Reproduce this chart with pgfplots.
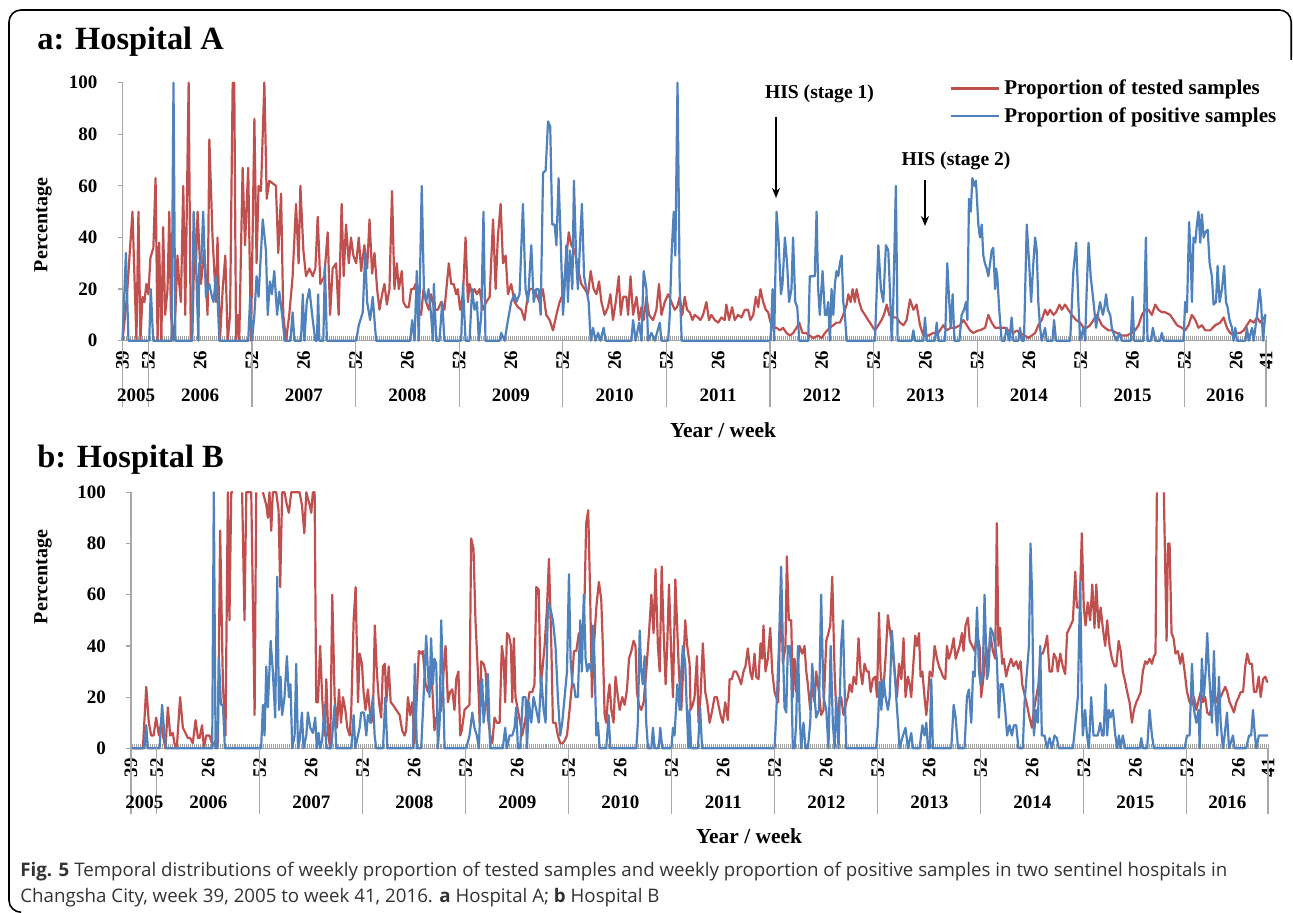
\documentclass[border=0pt]{standalone}
\usepackage{fontspec}
\setmainfont{Liberation Serif}
\newfontfamily\capfont{Open Sans}
\usepackage{pgfplots}
\pgfplotsset{compat=1.18}
\usetikzlibrary{arrows.meta}
\definecolor{cred}{HTML}{C0504D}
\definecolor{cblue}{HTML}{4F81BD}
\definecolor{tickgray}{HTML}{A8A8A8}
\definecolor{hatchgray}{HTML}{A0A0A0}
\definecolor{capgray}{HTML}{333333}
\newcommand\tfont{\fontsize{9.5}{11}\selectfont\bfseries}
\pgfplotsset{
 hosp/.style={
  scale only axis, axis lines*=left, xmin=0, xmax=574, ymin=0, ymax=100,
  enlargelimits=false, clip=false,
  axis line style={tickgray, line width=0.6pt},
  major tick length=0pt, minor tick length=2.3pt, tick align=inside,
  tick style={hatchgray, line width=0.5pt},
  minor xtick={0,1,...,574},
  xtick={0,13,39,65,91,117,143,169,195,221,247,273,299,325,351,377,403,429,455,481,507,533,559,574},
  xticklabels={39,52,26,52,26,52,26,52,26,52,26,52,26,52,26,52,26,52,26,52,26,52,26,41},
  ytick={0,20,40,60,80,100},
  /pgf/number format/assume math mode=true,
  tick label style={font=\tfont},
  xticklabel style={rotate=90, anchor=east},
  xticklabel shift=1.5pt,
  yticklabel shift=9pt,
 }
}
\tikzset{sep/.style={tickgray, line width=0.6pt}, yr/.style={font=\tfont, yshift=-27.2pt},
  rl/.style={cred, line width=1.1pt, line join=round}, bl/.style={cblue, line width=1.1pt, line join=round}}
\newcommand\decor{%
  \draw[sep] (axis cs:0,0) -- ++(-2.5pt,0);
  \draw[sep] (axis cs:0,20) -- ++(-2.5pt,0);
  \draw[sep] (axis cs:0,40) -- ++(-2.5pt,0);
  \draw[sep] (axis cs:0,60) -- ++(-2.5pt,0);
  \draw[sep] (axis cs:0,80) -- ++(-2.5pt,0);
  \draw[sep] (axis cs:0,100) -- ++(-2.5pt,0);
  \draw[sep] (axis cs:0,0) -- ++(0,-33pt);
  \draw[sep] (axis cs:13,0) -- ++(0,-33pt);
  \draw[sep] (axis cs:65,0) -- ++(0,-33pt);
  \draw[sep] (axis cs:117,0) -- ++(0,-33pt);
  \draw[sep] (axis cs:169,0) -- ++(0,-33pt);
  \draw[sep] (axis cs:221,0) -- ++(0,-33pt);
  \draw[sep] (axis cs:273,0) -- ++(0,-33pt);
  \draw[sep] (axis cs:325,0) -- ++(0,-33pt);
  \draw[sep] (axis cs:377,0) -- ++(0,-33pt);
  \draw[sep] (axis cs:429,0) -- ++(0,-33pt);
  \draw[sep] (axis cs:481,0) -- ++(0,-33pt);
  \draw[sep] (axis cs:533,0) -- ++(0,-33pt);
  \draw[sep] (axis cs:574,0) -- ++(0,-33pt);
  \node[yr] at (axis cs:6.8,0) {2005};
  \node[yr] at (axis cs:39,0) {2006};
  \node[yr] at (axis cs:91,0) {2007};
  \node[yr] at (axis cs:143,0) {2008};
  \node[yr] at (axis cs:195,0) {2009};
  \node[yr] at (axis cs:247,0) {2010};
  \node[yr] at (axis cs:299,0) {2011};
  \node[yr] at (axis cs:351,0) {2012};
  \node[yr] at (axis cs:403,0) {2013};
  \node[yr] at (axis cs:455,0) {2014};
  \node[yr] at (axis cs:507,0) {2015};
  \node[yr] at (axis cs:553.5,0) {2016};
}
\begin{document}
\begin{tikzpicture}
\useasboundingbox (0,0) rectangle (646.5pt,-456.5pt);
\draw[line width=0.8pt, rounded corners=6pt] (10pt,-456.1pt) -- (4.5pt,-456.1pt) -- (4.5pt,-5pt) -- (645.6pt,-5pt) -- (645.6pt,-30pt);
\node[anchor=base west, font=\fontsize{16.2}{19}\selectfont\bfseries, inner sep=0pt] at (18.5pt,-25pt) {a: Hospital A};
\node[anchor=base west, font=\fontsize{16.2}{19}\selectfont\bfseries, inner sep=0pt] at (18.5pt,-234pt) {b: Hospital B};

\begin{axis}[hosp, at={(61.25pt,-170.35pt)}, anchor=south west, width=571.75pt, height=129pt,
  legend style={at={(rel axis cs:0.7237,1.02)}, anchor=north west, draw=none, fill=none,
    inner sep=0pt, outer sep=0pt, row sep=3pt, column sep=1pt,
    font=\fontsize{10.5}{12}\selectfont\bfseries, nodes={inner sep=1pt}},
  legend cell align=left,
  legend image code/.code={\draw[#1, line width=1.1pt] (0pt,0pt) -- (24pt,0pt);}]
\addplot[rl] coordinates {
(0,0)(2,15)(5,50)(7,0)(8,50)(9,0)(10,17)(11,15)(12,22)(13,18)(14,32)(15.5,36)(16.6,63)(17.6,0)(18.4,38)(19.5,0)(20.4,44)(21.4,10)(22.6,20)(23.5,50)(24.3,10)(25.5,0)(26.5,10)(27.6,33)(28.5,22)(29.3,15)(30.5,60)(31.5,10)(33.2,100)(34.3,0)(35,0)(36,33)(36.9,30)(37.7,50)(39.4,22)(41,35)(42.7,10)(43.6,78)(45.2,40)(46.9,15)(47.7,40)(48.9,0)(50.3,20)(51.6,33)(52.8,0)(54,10)(55.3,100)(56.1,100)(57,0)(57.8,10)(58.6,0)(60.3,67)(61.5,37)(63.1,67)(64.5,0)(66.2,86)(67.3,30)(68.3,60)(69.5,58)(71.2,100)(72.4,55)(73.7,62)(75.4,61)(77,60)(78.2,34)(79.6,57)(80.7,10)(82.1,0)(83.7,10)(85.4,25)(87.1,53)(88.4,30)(89.3,60)(90.8,35)(92.1,25)(93.8,28)(95.5,25)(96.8,28)(98,48)(99.3,22)(101.3,25)(103,42)(104.2,10)(105.5,28)(107.2,30)(108.5,10)(110,53)(111,25)(112.2,45)(113.6,30)(114.7,40)(115.9,33)(117.3,30)(118.6,40)(119.8,27)(121.4,37)(122.8,28)(124,47)(125.3,26)(126.5,34)(127.8,20)(129,12)(130.3,18)(131.5,22)(132.7,14)(134,20)(135.3,58)(136.5,20)(137.7,30)
(138.7,20)(140.2,27)(141,15)(142.4,13)(143.7,13)(144.9,20)(146.1,20)(147.1,22)(148.2,13)(149.9,10)(151.1,20)(152.4,15)(153.8,12)(154.9,18)(156.6,12)(158.3,12)(160,15)(161.6,12)(163.8,30)(165,22)(166.2,22)(167.5,18)(168.3,20)(169.5,12)(170.9,18)(172.2,40)(173.4,15)(174.2,22)(175.5,18)(176.7,20)(177.9,18)(179.2,20)(180.9,12)(182.6,15)(184.3,17)(186,47)(187.3,20)(188.4,40)(189.8,53)(191,30)(192.3,33)(193.5,18)(195.1,22)(196.8,15)(198.5,13)(200.2,12)(201.8,8)(203,15)(204.4,20)(206,20)(207.7,18)(209.4,15)(211,20)(212.7,10)(214.4,8)(216.1,4)(217.8,10)(219.4,15)(221.1,18)(222.8,32)(224,42)(225.3,37)(227,35)(228.6,28)(230.3,22)(232,20)(233.7,18)(235,27)(236.5,20)(237.9,18)(239.2,23)(240.4,15)(242,10)(243.7,13)(244.9,18)(246.2,8)(247.6,15)(249.1,25)(250.1,10)(251.3,17)(252.9,17)(253.8,10)(255,25)(256.3,10)(258,17)(259.3,8)(260.5,13)(261.6,8)(263,17)(264.3,10)(266.3,8)(268,12)(269.3,22)(270.5,10)(272.2,15)(273.9,18)(275.5,15)(277.2,12)(278.4,13)(279.7,17)
(281,10)(282.2,17)(283.4,12)(284.7,11)(286.1,8)(287.2,10)(288.9,9)(290.1,8)(291.4,10)(293.1,15)(294.4,8)(295.6,10)(297.3,8)(299,7)(300.6,9)(302.3,8)(303.1,14)(304.5,8)(306,13)(307.3,8)(309,10)(310.7,9)(312.4,12)(314,12)(315.2,8)(316.6,10)(317.9,17)(319.1,13)(320.2,20)(321.6,15)(322.9,12)(324.1,11)(325.3,7)(326.6,5)(328.3,5)(330,4)(331.6,5)(333.3,3)(335,2)(336.7,3)(338.3,5)(339.7,7)(341.3,3)(343,3)(345,2)(346.7,1)(349.2,2)(350.9,1)(352.6,3)(355,5)(356.8,6)(358.4,7)(360.1,7)(361.8,10)(363.5,14)(364.3,18)(365.5,15)(366.5,20)(367.6,15)(368.5,20)(369.8,15)(371,12)(372.7,10)(374.3,8)(376,6)(377.7,4)(379.4,6)(381,8)(382.2,10)(383.6,14)(384.9,10)(386.9,9)(388.6,9)(390.3,7)(392,6)(393.6,8)(395.3,16)(397,12)(398.6,14)(400.3,6)(402,2)(404.5,2)(407,3)(409.5,3)(412,6)(413.7,4)(415.7,5)(417.9,5)(420.4,6)(422.1,8)(423.8,6)(425.4,4)(427.1,3)(429.6,4)
(430.4,4)(433,5)(434.6,10)(436.3,7)(438,5)(440.5,5)(443,5)(444.7,4)(447.2,3)(448.9,4)(450.5,3)(453,2)(454.7,1)(456.4,2)(458.1,3)(459.7,6)(461.4,8)(463.1,12)(464.3,10)(465.6,12)(467.3,10)(468.6,11)(470.3,14)(471.5,12)(473.1,14)(474.8,12)(476.5,10)(478.7,8)(480.7,7)(482.4,5)(484,5)(485.7,6)(487.4,8)(489,10)(490.4,8)(491.6,6)(493.2,5)(494.9,4)(496.6,4)(499.1,3)(501.6,2)(504.1,2)(506.6,3)(508.3,4)(510,6)(511.7,10)(513.3,12)(515,12)(516.7,10)(518.4,14)(520,12)(521.7,11)(523.4,11)(525.9,10)(527.6,8)(529.3,6)(531.8,5)(533.4,4)(535.1,6)(536.8,10)(538.5,8)(540.1,5)(541.8,6)(543.5,4)(546,4)(548.5,6)(551,7)(552.7,9)(554.4,5)(556,3)(557.7,2)(559.4,3)(561.1,3)(562.8,4)(564.4,6)(566.1,8)(567.8,7)(569.5,9)(571.1,7)(572.8,9)(574,9)
};
\addlegendentry{Proportion of tested samples}
\addplot[bl] coordinates {
(0,0)(1.7,34)(3,0)(13.4,0)(14.2,20)(15.4,0)(24.6,0)(25.6,100)(26.5,0)(34.8,0)(35.7,50)(36.9,30)(38.1,0)(38.5,30)(39.5,30)(40.5,50)(41.9,17)(43.6,22)(44.9,17)(45.7,15)(46.9,25)(47.7,17)(48.6,0)(63.1,0)(64.1,17)(65,0)(66.2,10)(67.3,25)(68.3,17)(70.4,47)(72,35)(72.9,10)(74,23)(75,18)(76.2,27)(77.6,10)(78.7,19)(80.1,10)(81.4,0)(84.3,0)(85.4,11)(86.3,0)(89.6,0)(90.5,18)(91.3,0)(92.5,15)(93.8,20)(95.5,8)(96.8,0)(97.6,0)(98.2,18)(98.8,0)(100.8,0)(101.6,29)(102.6,0)(117.3,0)(118.6,6)(120.6,11)(121.8,34)(122.8,15)(124.3,8)(125.6,17)(127.3,0)(144.4,0)(145.4,8)(146.6,0)(147.7,27)(148.7,0)(150.2,60)(151.3,20)(152.4,15)(153.6,20)(154.9,10)(155.8,0)(156.3,22)(157.5,0)(159.1,0)(160.5,15)(161.6,0)(170,0)(170.9,22)(172.2,0)(174.2,0)(175.5,20)(176.7,12)(177.9,15)(178.9,0)(180.1,10)(181.2,50)(182.2,0)(189.3,0)(190.1,3)(191.8,0)(193.5,8)(195.1,15)(196.8,18)(197.7,15)(199.3,18)(201,53)(202.3,20)(203.5,15)(205.2,37)(206.4,15)(207.7,20)(208.9,20)(209.9,10)(211.1,65)(212.4,66)(213.6,85)(214.7,83)(215.7,45)(216.9,45)(217.8,37)(218.9,63)(219.9,40)(221.1,10)(221.9,20)(222.8,37)(223.6,15)(224.5,35)(225.8,20)(226.6,62)(227.8,30)(228.6,20)(229.5,35)(230.6,53)(231.7,25)(232.8,20)(234,15)(235,0)(236.2,5)(237.4,0)(238.7,3)(239.9,0)(241.5,5)(242.5,0)(255.4,0)(256.3,8)(257.6,0)(259.3,7)(260.5,0)(261.6,27)(263,20)(263.8,0)(265.5,3)(267.2,0)(269.7,7)(270.5,0)(273.9,0)(274.7,10)(275.7,35)(276.7,50)(277.5,33)(278.6,100)(279.7,20)(280.7,0)(325.3,0)(326.3,20)(327.1,0)(328.3,50)(329.4,38)(330.5,18)(331.3,22)(332.5,40)(333.6,30)(334.6,15)(335.8,20)(336.6,40)(337.7,15)(338.7,13)(339.7,0)(344.2,0)(345,25)(346.7,25)(347.5,25)(348.4,50)(349.2,20)(350,10)(351.4,27)(352.6,10)(353.4,10)(354.2,15)(355.1,0)(355.9,20)(356.8,10)(357.6,22)(358.4,27)(359.3,25)(360.1,30)(361,33)(361.8,15)(362.6,10)(363.5,0)(377.7,0)(379.4,37)(380.7,20)(381.9,15)(383.2,37)(384.4,35)(385.2,20)(386.1,0)(386.9,15)(388.2,60)(389.1,0)(396.1,0)(397,4)(397.8,0)(402,0)(402.8,9)(403.7,0)(407.8,0)(408.7,7)(409.5,0)(412.9,0)(414,30)(415,15)(415.7,5)(416.7,18)(417.6,0)(420.1,0)(421.2,10)(422.4,12)(423.4,15)(424.1,8)(424.9,55)(425.8,50)(426.6,63)(427.6,60)(428.4,62)(429.6,45)(430.4,40)(431.3,45)(432.1,33)(432.9,30)(433.8,28)(434.6,25)(435.5,30)(436.3,35)(437.1,36)(438,20)(438.5,28)(439.1,25)(440.1,12)(441.3,0)(442.7,0)(443.8,5)(445.2,0)(446.3,9)(447.2,0)(449.7,0)(450.5,5)(451.4,0)(452.5,0)(453.9,45)(455.1,30)(456.1,15)(457.2,30)(458.1,40)(458.9,35)(459.7,15)(460.6,5)(461.4,0)(463.1,5)(463.9,0)(466.8,0)(467.6,8)(468.6,0)(475.7,0)(477.3,27)(478.7,38)(479.8,15)(480.7,0)(482.4,5)(483.2,0)(484,20)(484.9,38)(486,25)(487.4,15)(488.7,5)(489.6,10)(490.7,15)(492.1,10)(492.9,13)(493.7,18)(494.6,12)(495.8,10)(496.6,5)(497.8,2)(499.1,0)(500.4,3)(501.6,0)(506.1,0)(507,17)(507.8,0)(512.5,0)(513.7,40)(514.5,0)(516.2,0)(517.2,5)(518.4,0)(520.8,0)(521.7,3)(522.6,0)(532.6,0)(533.4,15)(534.3,11)(535.4,46)(536.3,30)(536.8,15)(537.6,40)(538.5,38)(539.3,45)(540.1,50)(541,38)(541.8,49)(542.7,40)(543.5,42)(544.7,43)(545.7,30)(546.8,25)(547.7,14)(548.9,15)(549.7,29)(550.7,15)(551.9,20)(553,29)(553.9,15)(554.7,13)(555.7,8)(556.9,5)(557.7,0)(558.6,5)(559.4,0)(563.6,0)(564.4,5)(565.3,0)(567,5)(567.8,0)(569.5,10)(570.8,20)(571.5,15)(572.5,0)(573.6,10)(574,10)
};
\addlegendentry{Proportion of positive samples}
\decor
\end{axis}

\begin{axis}[hosp, at={(65.5pt,-374.15pt)}, anchor=south west, width=568.5pt, height=128pt]
\addplot[rl, unbounded coords=jump] coordinates {
(0,0)(6,0)(7.7,24)(9,10)(10.2,5)(11.4,5)(12.7,12)(14.1,5)(15.2,10)(16.1,5)(17.4,0)(18.6,16)(19.8,5)(21.1,6)(21.9,2)(23.1,0)(24.8,20)(26.2,8)(27.5,6)(28.7,4)(29.9,4)(31.2,2)(32.6,11)(33.8,4)(34.6,4)(35.9,9)(36.8,0)(38,5)(39.6,5)(41.3,1)(42.7,3)(43.9,2)(45,85)(46.4,25)(47.7,5)(48.9,100)(49.7,50)(50.6,100)(51.4,100)(53,nan)(56.1,100)(57.3,50)(58.2,100)(60.7,100)(62.4,13)(63.2,100)(65,nan)(66.6,100)(68.3,95)(69.1,90)(69.9,100)(70.8,85)(71.6,100)(73.3,100)(74.5,93)(75.3,63)(76.3,100)(77.5,100)(78.7,95)(79.7,92)(80.9,100)(83.4,100)(85.1,100)(86.3,95)(87.5,84)(88.5,100)(90.2,95)(91,92)(91.8,100)(92.7,100)(93.5,18)(94.4,18)(95.5,40)(96.5,20)(97.7,5)(98.6,27)(99.6,5)(100.6,0)(101.6,60)(102.8,20)(104,8)(105,23)(106,10)(107,20)(108.2,15)(109.2,8)(110.4,5)(111.2,15)(112.4,50)(113.4,63)(114.6,18)(115.4,37)(116.6,33)(117.4,22)(118.4,15)(119.6,23)(120.5,15)(121.3,10)(122.1,12)(123.1,48)(124.1,30)(125.2,18)(126.3,12)(127.2,32)(128.2,33)(128.9,18)(130.1,32)(131.1,18)(132.2,17)(133.9,15)(135.6,13)(136.9,7)(138.1,5)(138.9,7)(139.8,20)(140.9,13)(142,18)(143.1,2)(144,15)(145.3,38)(146.5,37)(147.3,38)(148.7,25)(149.9,22)(151,30)(152,25)(153.2,7)(154.1,12)(155.4,13)(156.6,15)(157.8,30)(158.8,40)(160,18)(161.1,22)(162.2,23)(163.3,15)(164.2,27)(165.3,30)(166.2,5)(167,7)(168.4,15)(169.6,16)(170.9,17)(171.7,82)(172.9,78)(173.9,50)(175.1,30)(176,10)(176.8,34)(178,33)(179,30)(180.2,12)(181.3,5)(182.4,2)(183.5,12)(184.7,10)(186.1,10)(187.2,40)(188.1,35)(188.9,18)(189.8,45)(190.8,44)(191.8,40)(192.5,18)(193.3,43)(194.1,20)(195.3,15)(196.5,10)(197.5,5)(198.7,10)(199.9,15)(201.2,22)(202.6,22)(203.7,25)(204.6,63)(205.8,62)(206.8,25)(207.6,30)(208.8,40)(210,55)(211,74)(212.2,40)(213,10)(214.3,10)(215.5,5)(216.7,2)(218,2)(218.9,3)(220.1,5)(221.4,15)(222.6,25)(223.6,38)(224.8,38)(226.1,45)(227.3,35)(229,60)(229.8,88)(230.8,93)(231.8,60)(232.7,20)(233.7,40)(234.9,55)(236.2,65)(237.4,58)(238.2,40)(239.1,13)(239.9,10)(240.8,20)(241.6,25)(242.5,15)(243.6,10)(244.6,28)(245.8,20)(246.7,15)(248,20)(249.2,17)(250.4,23)(251.4,35)(252.6,38)(253.7,42)(254.7,40)(255.4,22)(256.4,17)(257.6,15)(258.8,18)(260.1,30)(261.5,45)(262.7,60)(263.8,45)(264.8,70)(266,40)(266.9,30)(267.9,71)(268.9,45)(269.9,25)(270.7,40)(271.6,64)(272.8,35)(273.6,20)(274.8,66)(275.6,50)(276.6,30)(277.8,15)(278.7,30)(279.8,50)(280.8,40)(282,33)(282.5,15)(283.6,17)(284.5,20)(285.7,36)(286.5,10)(287.5,20)(288.7,41)(289.9,22)(290.9,18)(292.1,10)(293.2,14)(294.6,20)(295.8,20)(296.8,16)(297.9,12)(298.8,10)(300,18)(301.3,11)(302.2,27)(303.3,27)(304.3,30)(305.5,30)(306.7,28)(308,25)(309.2,30)(310.2,32)(311.4,39)(312.6,30)(313.6,27)(314.8,37)(315.6,28)(316.8,27)(317.8,41)(318.7,35)(319.3,48)(320.3,30)(321.5,35)(322.7,47)(323.7,30)(324.9,22)(325.7,20)(326.7,18)(327.4,40)(328.2,60)(329.1,33)(330.4,40)(331.1,75)(332.1,50)(333.3,50)(334.1,20)(335,35)(335.8,22)(336.7,33)(337.5,40)(338.9,37)(340,40)(340.9,30)(341.7,25)(342.9,15)(343.9,25)(345.1,18)(345.9,30)(347.3,22)(348.4,13)(349.6,15)(351,42)(352.1,45)(353,48)(354,67)(355.2,30)(356,15)(356.9,12)(357.7,20)(358.5,20)(359.7,13)(361.1,18)(361.9,20)(362.8,25)(363.9,22)(364.8,28)(366.1,25)(367.3,43)(368.3,30)(369.2,25)(370.3,33)(371.5,30)(372.4,30)(373.4,22)(374.5,27)(375.7,28)(376.6,20)(377.6,53)(378.4,30)(379.6,20)(380.9,35)(382.1,52)(383.3,45)(384.3,40)(385.5,30)(386.7,20)(387.7,33)(388.9,27)(390,43)(391,20)(392.2,28)(393.1,25)(393.9,20)(394.7,30)(395.9,44)(396.8,40)(397.8,45)(398.6,28)(399.5,30)(400.6,20)(401.5,13)(402.3,20)(403.2,30)(404.5,28)(405.7,40)(406.9,35)(407.9,32)(409,30)(409.9,28)(411.1,27)(411.9,40)(412.9,35)(414.1,38)(415.3,43)(416.3,35)(417.1,37)(418.3,40)(419.5,45)(420.3,38)(421.3,48)(422.5,51)(423.4,42)(424.7,40)(425.9,38)(427.1,45)(428.4,40)(429.2,20)(430.4,28)(431.7,40)(432.9,33)(433.7,45)(435.1,38)(436.3,35)(437.1,88)(437.9,40)(438.8,47)(439.8,33)(440.6,35)(441.8,28)(443,32)(444.3,35)(445.5,32)(446.9,34)(448,31)(449.1,34)(449.9,25)(451.1,21)(452.3,17)(453.6,12)(454.8,8)(455.8,15)(457,20)(458.1,25)(459.2,37)(460.3,37)(461.5,40)(462.5,44)(463.7,30)(464.9,30)(465.9,37)(467.1,35)(467.9,30)(469.1,37)(470.4,32)(471.6,29)(472.6,45)(473.8,47)(475.5,50)(476.7,69)(477.5,55)(478.9,55)(480,84)(481,55)(481.9,48)(483,57)(484.2,50)(485.3,64)(486.4,47)(487.3,64)(488.5,47)(489.5,55)(490.6,47)(491.8,40)(492.8,50)(494,40)(495.2,35)(496.5,32)(497.4,32)(498.6,42)(499.6,38)(500.7,30)(501.9,26)(502.9,22)(504.1,18)(505.3,10)(506.3,15)(507.5,18)(508.7,20)(509.7,22)(510.8,30)(512,34)(513,33)(514.2,35)(515.4,33)(516.4,36)(517.2,37)(517.9,100)(519,nan)(521.4,100)(522.8,42)(523.5,80)(524.3,80)(525.3,45)(526.3,43)(527.3,37)(528.5,38)(529.7,33)(530.7,37)(531.9,30)(533.1,22)(534.4,18)(535.6,17)(536.6,20)(537.8,15)(539,19)(540,22)(541.1,18)(542.3,20)(543.3,14)(544.5,13)(545.7,17)(546.7,20)(547.9,18)(549.1,22)(550.1,20)(551.2,22)(552.4,24)(553.4,22)(554.6,18)(555.8,16)(556.8,14)(558,18)(559.2,20)(560.2,22)(561.4,22)(562.5,32)(563.5,37)(564.7,33)(565.9,33)(566.9,22)(568.1,22)(569.3,28)(570.3,20)(571.5,27)(572.6,28)(573.6,26)(574,26)
};
\addplot[bl] coordinates {
(0,0)(6.8,0)(7.7,9)(8.5,0)(14.4,0)(15.7,17)(16.9,5)(17.8,0)(41,0)(41.8,100)(42.7,0)(43.6,0)(44.4,35)(45.4,17)(46.4,17)(47.4,0)(65.7,0)(66.6,17)(67.4,5)(68.3,32)(69.1,16)(70.5,42)(71.6,30)(72.8,12)(73.8,67)(74.7,15)(75.5,28)(76.3,13)(77.5,20)(78.7,36)(79.7,20)(80.5,25)(81.4,0)(82.6,5)(83.4,33)(84.3,0)(85.1,3)(86.3,14)(87.1,0)(88.5,5)(89.3,14)(90.5,8)(91.8,6)(93,12)(93.8,0)(94.7,6)(95.5,0)(96.5,3)(97.7,17)(98.6,0)(101.1,0)(101.9,8)(102.8,17)(103.6,0)(111.2,0)(112.4,13)(113.2,0)(115.4,8)(116.2,14)(117.6,14)(118.8,5)(119.6,13)(120.8,10)(122.1,20)(123,5)(123.8,0)(127.2,0)(128.4,20)(129.4,0)(142.3,0)(143.3,33)(144.3,0)(146.5,0)(147.7,20)(149,44)(149.9,30)(150.7,20)(151.5,43)(152.4,25)(153.2,35)(154.1,33)(154.9,0)(155.8,10)(156.6,50)(157.4,30)(158.3,0)(169.2,0)(170.9,5)(172.3,14)(173.4,8)(174.6,5)(175.6,0)(176.8,25)(177.3,27)(178,10)(179.3,20)(180.2,29)(181.3,0)(187.7,0)(188.9,8)(189.8,0)(191.1,5)(192.5,5)(193.6,8)(194.5,16)(195.3,0)(196.5,0)(197.8,20)(199.2,20)(199.9,0)(200.9,18)(202.1,10)(203.2,20)(204.6,15)(205.9,10)(207.1,28)(208.3,15)(209.3,10)(210.5,57)(211.6,55)(213,50)(214.3,40)(215.5,20)(216.7,5)(217.7,10)(218.9,20)(220.1,30)(221.1,68)(221.9,35)(222.8,25)(223.6,25)(224.4,20)(225.6,20)(226.8,50)(227.6,30)(228.6,60)(229.5,35)(230.3,30)(231.2,33)(232.4,30)(233.2,48)(234,35)(234.9,5)(235.7,10)(236.6,0)(239.9,0)(241.1,13)(242,0)(255.1,0)(255.9,10)(256.8,46)(257.6,30)(258.4,25)(259.3,36)(260.1,10)(261,0)(262.7,0)(263.5,8)(264.3,0)(266.4,0)(267.2,8)(268.2,0)(272.8,0)(273.6,8)(274.4,5)(275.8,25)(277,15)(277.8,30)(278.6,40)(279.8,33)(280.6,15)(281.4,0)(281.9,15)(282.8,0)(286.2,0)(287.3,16)(288.3,0)(324.9,0)(326.1,20)(327.1,40)(328.2,71)(329.1,40)(329.9,16)(330.8,14)(331.6,40)(332.5,40)(333.3,30)(334.1,0)(335,0)(335.8,10)(336.7,40)(337.5,15)(338.3,0)(339.5,10)(340.5,0)(341.7,0)(342.9,10)(343.9,33)(345.1,20)(345.9,12)(347.3,15)(348.4,60)(349.6,20)(351,15)(352.1,0)(353.2,40)(354.3,10)(355.2,0)(356,20)(357.2,0)(358.5,40)(359.4,50)(360.2,25)(361.1,0)(376.2,0)(377.1,10)(377.9,26)(378.8,15)(379.9,27)(380.9,20)(382.1,15)(383,20)(384.1,46)(385.5,30)(386.3,20)(387.2,10)(388,0)(389.7,5)(391,8)(392.2,0)(393.9,6)(394.7,0)(398.1,0)(399.5,9)(400.6,5)(401.5,10)(402.3,0)(403.2,0)(404,27)(404.8,0)(414.1,0)(415.3,17)(416.3,12)(417.5,0)(420.8,0)(422,20)(423,23)(424.2,10)(425.1,30)(425.9,28)(427.1,55)(428.1,30)(428.9,25)(430,30)(430.9,60)(432.1,27)(432.9,30)(433.9,47)(435.1,45)(436.3,40)(437.1,35)(438.1,12)(439,25)(440.1,25)(441.3,15)(442.3,5)(443.5,9)(444.7,5)(445.7,9)(446.9,9)(448,0)(450.2,0)(451.1,18)(452.3,30)(453.3,40)(454.1,80)(454.9,60)(455.8,5)(457,15)(457.8,10)(459,40)(459.8,5)(461.2,5)(462.4,0)(463.7,4)(464.9,0)(466.2,5)(467.4,4)(468.4,0)(475.5,0)(476.8,10)(478,20)(479.2,65)(480,20)(480.5,5)(481.7,15)(482.6,5)(483.6,0)(484.7,20)(485.9,5)(486.9,5)(488.1,5)(489.3,10)(490.3,5)(491,5)(492,25)(492.8,5)(493.7,15)(494.5,12)(495.7,15)(496.9,5)(497.9,0)(498.7,5)(499.6,0)(500.7,5)(501.9,0)(509.2,0)(510,4)(510.8,0)(513,0)(514.2,15)(515.4,5)(516.4,0)(531.9,0)(533.1,5)(534.4,5)(535.6,33)(536.6,15)(537.8,10)(539,15)(539.5,0)(540.6,35)(541.6,20)(542.5,30)(543.3,45)(544.2,30)(545,20)(545.7,10)(546.7,38)(547.5,15)(548.4,5)(549.2,28)(550.1,10)(551.2,0)(552.1,5)(553.3,14)(554.3,0)(555.5,3)(556.3,5)(557.1,0)(563,0)(564.4,5)(565.5,5)(566.4,15)(567.4,5)(568.1,0)(569.4,5)(570.6,5)(574,5)
};
\decor
\end{axis}

\node[rotate=90, font=\fontsize{10}{12}\selectfont\bfseries] at (21.5pt,-112.5pt) {Percentage};
\node[rotate=90, font=\fontsize{10}{12}\selectfont\bfseries] at (21.5pt,-288.5pt) {Percentage};
\node[font=\fontsize{10.7}{13}\selectfont\bfseries] at (361.5pt,-215pt) {Year / week};
\node[font=\fontsize{10.7}{13}\selectfont\bfseries] at (374.5pt,-418pt) {Year / week};

\node[font=\fontsize{9.8}{12}\selectfont\bfseries] at (409.75pt,-47pt) {HIS (stage 1)};
\draw[-{Stealth[length=5pt,width=4pt]}, line width=0.7pt] (388pt,-58.3pt) -- (388pt,-99pt);
\node[font=\fontsize{9.8}{12}\selectfont\bfseries] at (478pt,-80.5pt) {HIS (stage 2)};
\draw[-{Stealth[length=5pt,width=4pt]}, line width=0.7pt] (462.5pt,-90pt) -- (462.5pt,-113pt);

\node[anchor=base west, inner sep=0pt, font=\capfont\fontsize{9.35}{13}\selectfont, text=capgray] at (10pt,-438pt) {\textbf{Fig. 5} Temporal distributions of weekly proportion of tested samples and weekly proportion of positive samples in two sentinel hospitals in};
\node[anchor=base west, inner sep=0pt, font=\capfont\fontsize{9.35}{13}\selectfont, text=capgray] at (10pt,-451pt) {Changsha City, week 39, 2005 to week 41, 2016. \textbf{a} Hospital A; \textbf{b} Hospital B};
\end{tikzpicture}
\end{document}
